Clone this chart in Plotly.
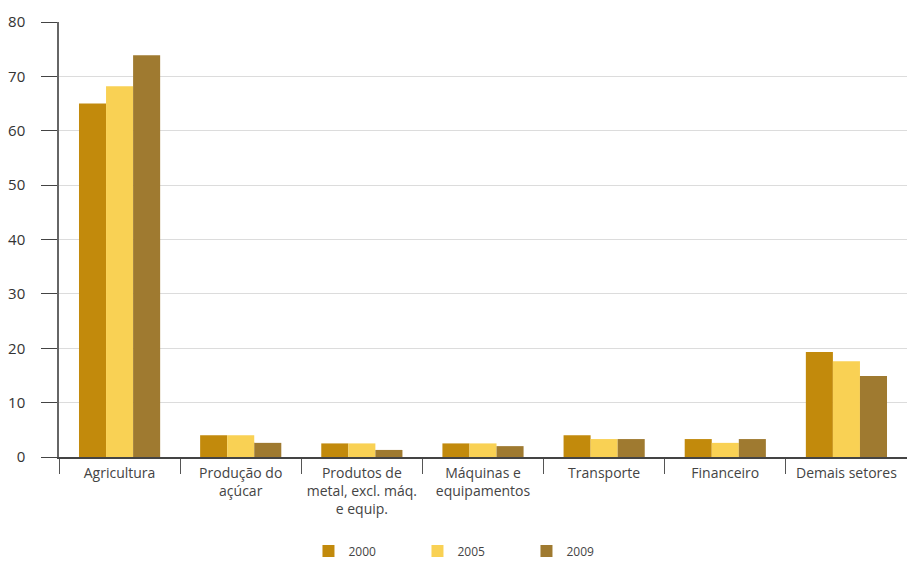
import plotly.graph_objects as go

# Sector labels (line breaks as shown under the axis)
categories = [
    "Agricultura",
    "Produção do<br>açúcar",
    "Produtos de<br>metal, excl. máq.<br>e equip.",
    "Máquinas e<br>equipamentos",
    "Transporte",
    "Financeiro",
    "Demais setores",
]

years = ["2000", "2005", "2009"]

values_2000 = [65.0, 4.0, 2.5, 2.5, 4.0, 3.3, 19.3]
values_2005 = [68.2, 4.0, 2.5, 2.5, 3.3, 2.6, 17.6]
values_2009 = [73.9, 2.6, 1.3, 2.0, 3.3, 3.3, 14.9]

colors = ["rgb(194,138,12)", "rgb(249,209,84)", "rgb(159,122,48)"]

y_ticks = [0, 10, 20, 30, 40, 50, 60, 70, 80]

fig = go.Figure()
for name, vals, col in zip(years, [values_2000, values_2005, values_2009], colors):
    fig.add_trace(go.Bar(
        x=categories, y=vals, name=name,
        marker=dict(color=col, line=dict(width=0)),
    ))

fig.update_layout(
    width=907, height=562,
    margin=dict(l=59, r=0, t=22, b=105, autoexpand=False),
    paper_bgcolor="white", plot_bgcolor="white",
    barmode="group", bargap=0.33, bargroupgap=0,
    font=dict(family="Open Sans", color="#444"),
    showlegend=True,
    legend=dict(
        orientation="h", x=0.487, xanchor="center", y=-0.216, yanchor="middle",
        font=dict(size=12, color="#444"), entrywidth=64, entrywidthmode="pixels",
        itemwidth=30, traceorder="normal", tracegroupgap=0,
    ),
)

fig.update_xaxes(
    type="category", tickson="boundaries", ticks="outside", ticklen=15,
    tickcolor="#555", tickwidth=1.2, automargin=False,
    showline=True, linecolor="#444", linewidth=1.5,
    showgrid=False, tickfont=dict(size=14, color="#444"),
    ticklabelstandoff=2,
)
fig.update_yaxes(
    range=[0, 80], tickvals=y_ticks, ticks="outside", ticklen=16,
    tickcolor="#444", tickwidth=1.2, automargin=False,
    showline=True, linecolor="#666", linewidth=1.5,
    showgrid=True, gridcolor="#dcdcdc", gridwidth=1.2,
    zeroline=False, tickfont=dict(size=15, color="#333"),
    ticklabelstandoff=13,
)

fig.write_html("out.html")
